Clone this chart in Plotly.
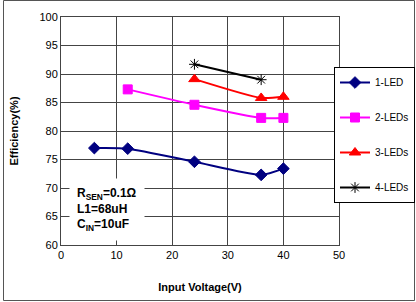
import plotly.graph_objects as go

x_1led = [6, 12, 24, 36, 40]
y_1led = [77.0, 76.9, 74.6, 72.3, 73.4]
x_2led = [12, 24, 36, 40]
y_2led = [87.3, 84.6, 82.3, 82.3]
x_3led = [24, 36, 40]
y_3led = [89.1, 85.8, 86.0]
x_4led = [24, 36]
y_4led = [91.7, 89.0]

series = [
    ("1-LED", x_1led, y_1led, "#000080", "diamond", 9),
    ("2-LEDs", x_2led, y_2led, "#FF00FF", "square", 9),
    ("3-LEDs", x_3led, y_3led, "#FF0000", "triangle-up", 10),
    ("4-LEDs", x_4led, y_4led, "#000000", "asterisk-open", 9),
]

fig = go.Figure()
for i, (name, xs, ys, col, sym, sz) in enumerate(series):
    fig.add_trace(go.Scatter(
        x=xs, y=ys, name=name, mode="lines+markers",
        line=dict(color=col, width=2, shape="spline", smoothing=0.6),
        marker=dict(symbol=sym, size=sz, color=col, line=dict(color=col, width=1)),
        legendgroup=str(i),
    ))

fig.add_annotation(
    x=1.5, y=66.3, xref="x", yref="y", xanchor="left", yanchor="middle",
    text="R<sub>SEN</sub>=0.1Ω<br>L1=68uH<br>C<sub>IN</sub>=10uF",
    showarrow=False, align="left", bgcolor="white", borderpad=7,
    font=dict(family="Liberation Sans, Arial", size=12, color="black", weight="bold"),
)

# outer chart border (paper coords relative to plot area 61..339 x 17..245)
fig.add_shape(type="rect", xref="paper", yref="paper",
              x0=(3.5 - 61) / 278, x1=(414.5 - 61) / 278,
              y0=(245 - 300.5) / 228, y1=(245 - 0.5) / 228,
              line=dict(color="#555555", width=1), fillcolor="rgba(0,0,0,0)")

axis_font = dict(family="Liberation Sans, Arial", size=11, color="black")
fig.update_layout(
    width=416, height=302,
    margin=dict(l=61, r=77, t=17, b=57, autoexpand=False),
    paper_bgcolor="white", plot_bgcolor="white",
    font=axis_font,
    showlegend=True,
    legend=dict(
        x=(415 - 61) / 278, y=(245 - 67) / 228, xanchor="right", yanchor="top",
        bordercolor="black", borderwidth=1, bgcolor="white",
        font=dict(family="Liberation Sans, Arial", size=10, color="black"),
        tracegroupgap=16, itemwidth=30,
    ),
    xaxis=dict(
        range=[0, 50], dtick=10, showgrid=True, gridcolor="#444444", gridwidth=1,
        zeroline=False, showline=True, linecolor="#444444", mirror=True,
        ticks="", tickfont=axis_font, automargin=False,
        title=dict(text="<b>Input Voltage(V)</b>", font=dict(family="Liberation Sans, Arial", size=11, color="black"), standoff=23),
    ),
    yaxis=dict(
        range=[60, 100], dtick=5, showgrid=True, gridcolor="#444444", gridwidth=1,
        zeroline=False, showline=True, linecolor="#444444", mirror=True,
        ticks="", tickfont=axis_font, automargin=False,
        title=dict(text="<b>Efficiency(%)</b>", font=dict(family="Liberation Sans, Arial", size=11, color="black"), standoff=18),
    ),
)

fig.write_html("out.html", config={"displayModeBar": False},
               post_script="document.body.style.margin='0';document.body.style.overflow='hidden';")
